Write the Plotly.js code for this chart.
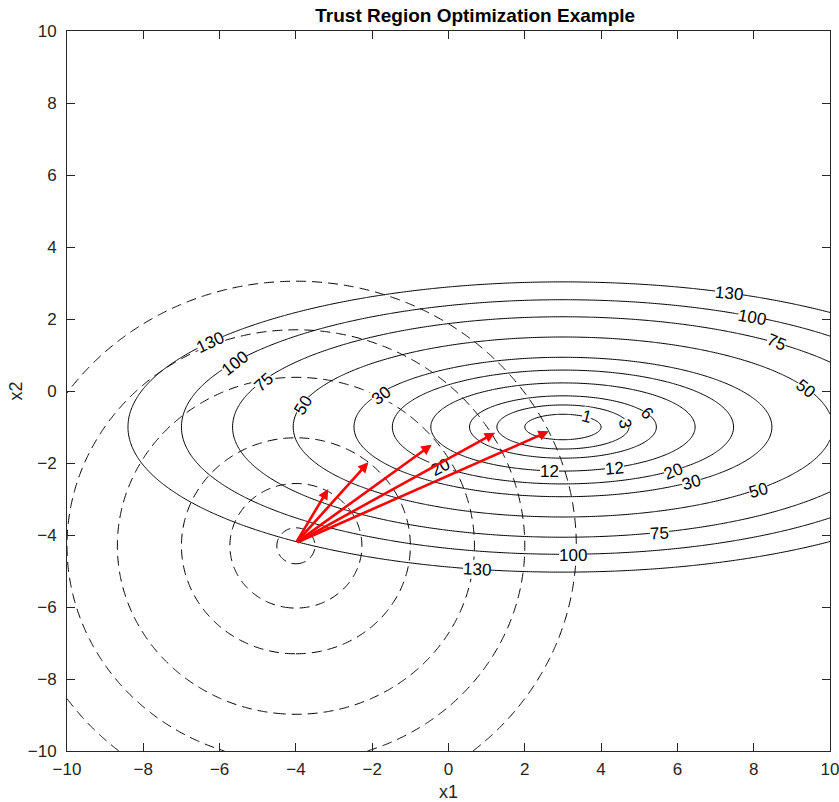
<!DOCTYPE html>
<html>
<head>
<meta charset="utf-8">
<script src="https://cdn.plot.ly/plotly-3.0.1.min.js"></script>
<style>
  html, body { margin: 0; padding: 0; background: #ffffff; }
  #chart { width: 839px; height: 802px; }
</style>
</head>
<body>
<div id="chart"></div>
<script>
// Objective: f(x1, x2) = w1*(x1 - c1)^2 + w2*(x2 - c2)^2
const objCenter = [3, -1];
const objWeights = [1, 8];
const objLevels = [1, 3, 6, 12, 20, 30, 50, 75, 100, 130];

// Trust-region boundaries around the current iterate
const trCenter = [-4, -4.3];
const trRadii = [0.5, 1.73, 3, 4.68, 6, 7.35];

// Steps taken from the iterate for growing trust radii
const stepStart = [-4, -4.22];
const stepEndX = [-3.15, -2.10, -0.44, 1.22, 2.63];
const stepEndY = [-2.72, -1.98, -1.49, -1.16, -1.12];

// Contour labels: level shown and where it sits on its curve
const labelLevel = [130, 100, 75, 50, 50, 30, 20, 12, 12, 6, 3, 1, 75, 100, 130, 130, 100, 75, 50, 30, 20];
const labelX     = [7.35, 7.96, 8.61, 9.35, 8.12, 6.37, 5.89, 4.36, 2.66, 5.20, 4.62, 3.62, 5.54, 3.27, 0.74, -6.25, -5.60, -4.85, -3.81, -1.75, -0.22];
const labelY     = [2.71, 2.04, 1.35, 0.06, -2.75, -2.54, -2.23, -2.16, -2.24, -0.63, -0.91, -0.72, -3.96, -4.58, -4.97, 1.36, 0.76, 0.25, -0.40, -0.13, -2.12];
const labelAngle = [5, 10, 22, 38, -15, -17, -22, -5, 0, 48, 80, 15, -3, 0, 3, -25, -38, -42, -58, -38, -28];

// Evaluation grid
const gridStep = 0.05;
const gx = [], gy = [];
for (let v = -10; v <= 10.0001; v += gridStep) { gx.push(+v.toFixed(4)); gy.push(+v.toFixed(4)); }

const zObj = gy.map(y => gx.map(x =>
  objWeights[0] * (x - objCenter[0]) ** 2 + objWeights[1] * (y - objCenter[1]) ** 2));
const zDist = gy.map(y => gx.map(x =>
  Math.sqrt((x - trCenter[0]) ** 2 + (y - trCenter[1]) ** 2)));

const FONT = 'Liberation Sans, Arial, Helvetica, sans-serif';
const traces = [];

objLevels.forEach(L => {
  traces.push({
    type: 'contour', x: gx, y: gy, z: zObj,
    autocontour: false,
    contours: { start: L, end: L, size: 1, coloring: 'none' },
    line: { color: '#000000', width: 1, smoothing: 1 },
    showscale: false, hoverinfo: 'skip'
  });
});

trRadii.forEach(r => {
  traces.push({
    type: 'contour', x: gx, y: gy, z: zDist,
    autocontour: false,
    contours: { start: r, end: r, size: 1, coloring: 'none' },
    line: { color: '#000000', width: 1, dash: '10px,6px', smoothing: 1 },
    showscale: false, hoverinfo: 'skip'
  });
});

const annotations = [];
labelLevel.forEach((lv, i) => {
  annotations.push({
    x: labelX[i], y: labelY[i], xref: 'x', yref: 'y',
    text: String(lv), showarrow: false, textangle: labelAngle[i],
    font: { family: FONT, size: 17, color: '#000000' },
    bgcolor: '#ffffff', borderpad: 0, borderwidth: 0
  });
});

stepEndX.forEach((ex, i) => {
  annotations.push({
    x: ex, y: stepEndY[i], xref: 'x', yref: 'y',
    ax: stepStart[0], ay: stepStart[1], axref: 'x', ayref: 'y',
    text: '', showarrow: true, arrowhead: 2, arrowsize: 0.8,
    arrowwidth: 2.6, arrowcolor: '#ff0000', standoff: 0, startstandoff: 0
  });
});

const axisCommon = {
  range: [-10, 10], dtick: 2, tick0: 0,
  showgrid: false, zeroline: false,
  showline: true, linecolor: '#262626', linewidth: 1, mirror: 'ticks',
  ticks: 'inside', ticklen: 8, tickcolor: '#262626', tickwidth: 1,
  ticklabeloverflow: 'allow',
  tickfont: { family: FONT, size: 17, color: '#262626' }
};

const layout = {
  width: 839, height: 802,
  margin: { l: 67, r: 9, t: 31, b: 51 },
  paper_bgcolor: '#ffffff', plot_bgcolor: '#ffffff',
  showlegend: false,
  title: {
    text: '<b>Trust Region Optimization Example</b>',
    font: { family: FONT, size: 19, color: '#000000' },
    x: 0.535, xref: 'paper', y: 0.981, yref: 'container', yanchor: 'middle'
  },
  xaxis: Object.assign({}, axisCommon, {
    title: { text: 'x1', font: { family: FONT, size: 18, color: '#262626' }, standoff: 7 },
    ticklabelstandoff: 3
  }),
  yaxis: Object.assign({}, axisCommon, {
    title: { text: 'x2', font: { family: FONT, size: 18, color: '#262626' }, standoff: 0 },
    ticklabelstandoff: 6
  }),
  annotations: annotations
};

Plotly.newPlot('chart', traces, layout, { staticPlot: true, displayModeBar: false });
</script>
</body>
</html>
